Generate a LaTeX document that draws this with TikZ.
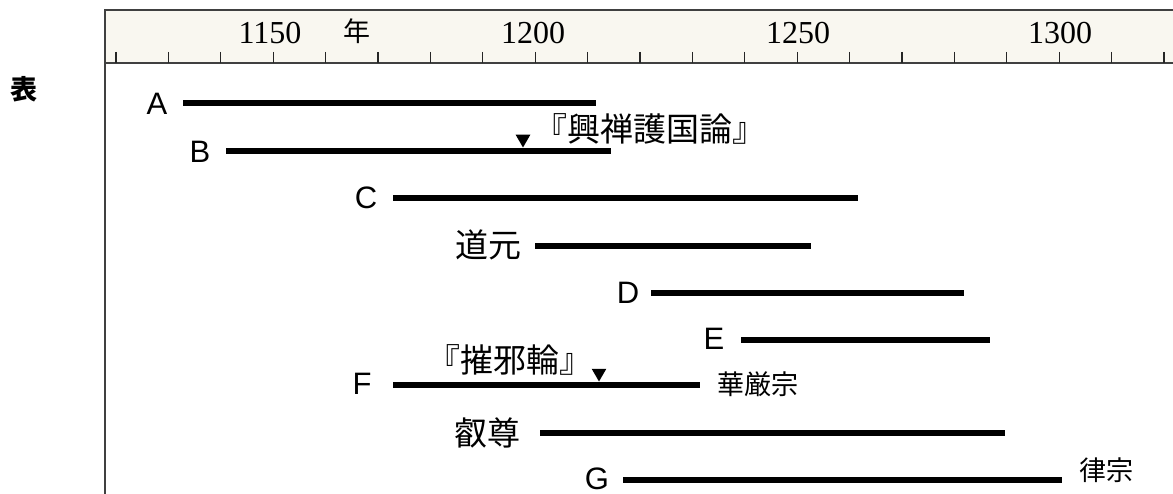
\documentclass[tikz,border=0pt]{standalone}
\usepackage{fontspec}
\setmainfont{Liberation Serif}
\newfontfamily\cjk{Noto Sans CJK JP}
\newfontfamily\lat{Liberation Sans}
\usetikzlibrary{shapes.geometric}
\definecolor{cream}{RGB}{249,247,240}
\begin{document}
\begin{tikzpicture}[x=1pt,y=-1pt,
  bar/.style={line width=5.5pt},
  lab/.style={inner sep=0pt, font=\lat\fontsize{31}{31}\selectfont},
  jp/.style={inner sep=0pt, font=\cjk\fontsize{33}{33}\selectfont},
  jps/.style={inner sep=0pt, font=\cjk\fontsize{27}{27}\selectfont},
  yr/.style={inner sep=0pt, font=\fontsize{32}{32}\selectfont},
  tri/.style={regular polygon, regular polygon sides=3, shape border rotate=180,
              fill=black, minimum size=17pt, inner sep=0pt},
  tickmark/.style={line width=1.2pt, draw=black!85},
  frameline/.style={line width=1.2pt, draw=black!75}]
\useasboundingbox (0,0) rectangle (1173,494);
\fill[white] (0,0) rectangle (1173,494);
% ruler
\fill[cream] (105,10) rectangle (1173,63);
\draw[frameline] (105,494) -- (105,10) -- (1173,10);
\draw[frameline] (105,63) -- (1173,63);
\foreach \i in {0,...,20} \draw[tickmark] ({116+52.4*\i},52) -- ({116+52.4*\i},63);
\node[yr] (y1150) at (270,33) {1150};
\node[inner sep=0pt, font=\cjk\fontsize{27}{27}\selectfont] (nen) at (357,31) {年};
\node[yr] (y1200) at (533,33) {1200};
\node[yr] (y1250) at (798,33) {1250};
\node[yr] (y1300) at (1060,33) {1300};
% title
\node[inner sep=0pt, font=\cjk\bfseries\fontsize{27}{27}\selectfont] (hyo) at (24,89) {表};
% bar end points
\coordinate (a1) at (183,103);  \coordinate (a2) at (596,103);
\coordinate (b1) at (226,151);  \coordinate (b2) at (611,151);
\coordinate (c1) at (393,198);  \coordinate (c2) at (858,198);
\coordinate (dg1) at (535,246); \coordinate (dg2) at (811,246);
\coordinate (d1) at (651,293);  \coordinate (d2) at (964,293);
\coordinate (e1) at (741,340);  \coordinate (e2) at (990,340);
\coordinate (f1) at (393,385);  \coordinate (f2) at (700,385);
\coordinate (es1) at (540,433); \coordinate (es2) at (1005,433);
\coordinate (g1) at (623,480);  \coordinate (g2) at (1062,480);
% bars
\draw[bar] (a1) -- (a2);
\draw[bar] (b1) -- (b2);
\draw[bar] (c1) -- (c2);
\draw[bar] (dg1) -- (dg2);
\draw[bar] (d1) -- (d2);
\draw[bar] (e1) -- (e2);
\draw[bar] (f1) -- (f2);
\draw[bar] (es1) -- (es2);
\draw[bar] (g1) -- (g2);
% labels
\node[lab] (A) at (157,104) {A};
\node[lab] (B) at (200,152) {B};
\node[lab] (C) at (366,198) {C};
\node[jp] (dogen) at (488,245) {道元};
\node[lab] (D) at (628,293) {D};
\node[lab] (E) at (714,339) {E};
\node[lab] (F) at (362,384) {F};
\node[jp] (eison) at (487,433) {叡尊};
\node[lab] (G) at (597,479) {G};
% notes
\node[tri] (m1) at (523,139) {};
\node[jp] (kozen) at (650,129) {『興禅護国論』};
\node[tri] (m2) at (599,373) {};
\node[jp] (zaijarin) at (510,360) {『摧邪輪』};
\node[jps] (kegon) at (758,384) {華厳宗};
\node[jps] (ritsu) at (1106,470) {律宗};
\end{tikzpicture}
\end{document}
